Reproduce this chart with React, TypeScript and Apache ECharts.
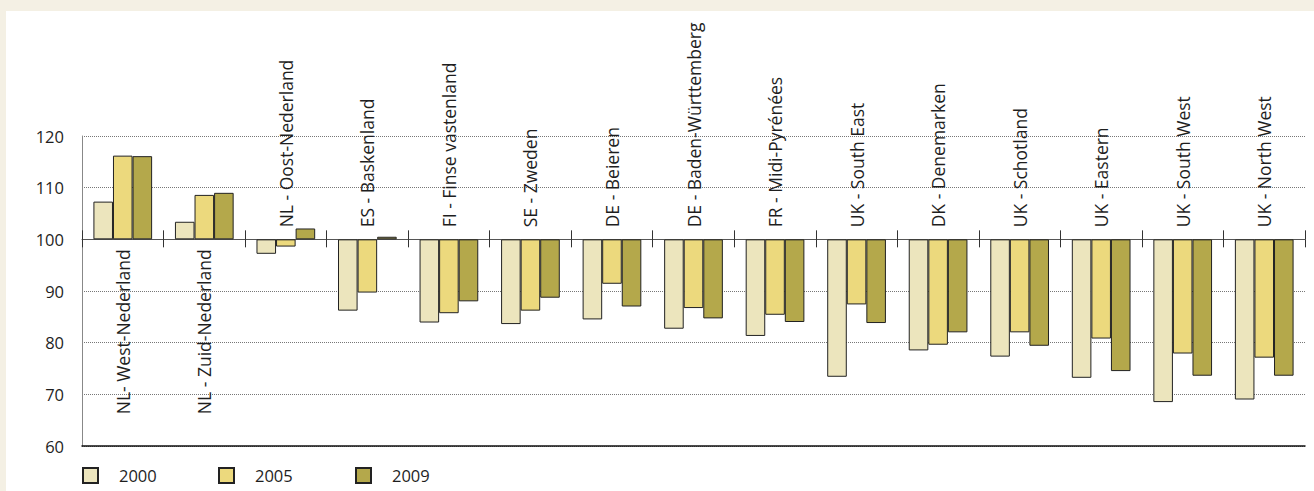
import React, { useEffect, useRef } from "react";
import * as echarts from "echarts";

const categories = [
  "NL- West-Nederland",
  "NL - Zuid-Nederland",
  "NL - Oost-Nederland",
  "ES - Baskenland",
  "FI - Finse vastenland",
  "SE - Zweden",
  "DE - Beieren",
  "DE - Baden-Württemberg",
  "FR - Midi-Pyrénées",
  "UK - South East",
  "DK - Denemarken",
  "UK - Schotland",
  "UK - Eastern",
  "UK - South West",
  "UK - North West",
];

const seriesNames = ["2000", "2005", "2009"];

const values2000 = [107.3, 103.4, 97.2, 86.2, 83.9, 83.6, 84.5, 82.7, 81.3, 73.4, 78.5, 77.3, 73.2, 68.5, 69.0];
const values2005 = [116.2, 108.6, 98.6, 89.7, 85.7, 86.2, 91.4, 86.7, 85.4, 87.4, 79.6, 82.0, 80.8, 77.9, 77.1];
const values2009 = [116.1, 109.0, 102.1, 100.5, 88.0, 88.7, 87.0, 84.7, 84.0, 83.8, 82.0, 79.4, 74.5, 73.6, 73.6];

const baseline = 100;
const yTicks = [60, 70, 80, 90, 100, 110, 120];
const labelsBelowCount = 2;

const colors = ["#ece5bd", "#ecd97d", "#b4a84b"];

export default function App() {
  const ref = useRef<HTMLDivElement>(null);

  useEffect(() => {
    if (!ref.current) return;
    const chart = echarts.init(ref.current, null, { renderer: "svg" });
    const allValues = [values2000, values2005, values2009];
    const font = "'Open Sans', sans-serif";
    const yMin = yTicks[0] - baseline;
    const yMax = yTicks[yTicks.length - 1] - baseline;

    const legendLefts = [71, 207, 344];

    const labelData = categories.map((c, i) => {
      const below = i < labelsBelowCount;
      return {
        value: 0,
        name: c,
        label: {
          show: true,
          position: below ? "bottom" : "top",
          distance: below ? 10 : 12,
          rotate: 90,
          align: below ? "right" : "left",
          verticalAlign: "middle",
          formatter: c,
          fontSize: 17.5,
          color: "#1e1e1e",
          fontFamily: font,
        },
      };
    });

    chart.setOption({
      animation: false,
      backgroundColor: "#ffffff",
      textStyle: { fontFamily: font },
      grid: {
        left: 76,
        right: 9,
        top: 125,
        bottom: 45,
        containLabel: false,
        outerBoundsMode: "none",
      },
      legend: seriesNames.map((n, i) => ({
        data: [n],
        left: legendLefts[i],
        top: 451,
        itemWidth: 15,
        itemHeight: 15,
        icon: "rect",
        selectedMode: false,
        textStyle: { fontSize: 16.5, color: "#1e1e1e", fontFamily: font, padding: [0, 0, 0, 16] },
      })),
      xAxis: [
        {
          type: "category",
          data: categories,
          position: "bottom",
          axisLine: { onZero: true, onZeroAxisIndex: 0, lineStyle: { color: "#555", width: 1 } },
          axisTick: { show: true, interval: 0, length: 8, lineStyle: { color: "#333" } },
          axisLabel: { show: false },
          splitLine: { show: false },
        },
        {
          type: "category",
          data: categories,
          position: "top",
          axisLine: { show: false, onZero: true, onZeroAxisIndex: 0 },
          axisTick: { show: true, interval: 0, length: 9, lineStyle: { color: "#333" } },
          axisLabel: { show: false },
          splitLine: { show: false },
        },
        {
          type: "category",
          data: categories,
          position: "bottom",
          axisLine: { show: true, onZero: false, lineStyle: { color: "#111", width: 1.5 } },
          axisTick: { show: false },
          axisLabel: { show: false },
          splitLine: { show: false },
        },
      ],
      yAxis: {
        type: "value",
        min: yMin,
        max: yMax,
        interval: 10,
        axisLine: { show: true, lineStyle: { color: "#888" } },
        axisTick: { show: false },
        axisLabel: {
          fontSize: 16.5,
          color: "#1e1e1e",
          margin: 18,
          fontFamily: font,
          formatter: (v: number) => String(v + baseline),
        },
        splitLine: { show: true, lineStyle: { type: "dotted", color: "#777", width: 1 } },
      },
      series: [
        ...seriesNames.map((n, i) => ({
          name: n,
          type: "bar",
          xAxisIndex: 0,
          data: allValues[i].map((v) => +(v - baseline).toFixed(2)),
          barGap: "0%",
          barCategoryGap: "28%",
          itemStyle: {
            color: colors[i],
            borderColor: "#222",
            borderWidth: 1,
          },
        })),
        {
          name: "labels",
          type: "bar",
          xAxisIndex: 1,
          data: labelData,
          barWidth: 1,
          silent: true,
          itemStyle: { color: "rgba(0,0,0,0)", borderWidth: 0 },
          z: 5,
        },
      ],
    });
    return () => chart.dispose();
  }, []);

  return (
    <div
      style={{
        position: "fixed",
        left: 0,
        top: 0,
        width: 1314,
        height: 491,
        background: "#f4f0e4",
      }}
    >
      <div
        ref={ref}
        style={{ position: "absolute", left: 6, top: 11, width: 1308, height: 480 }}
      />
    </div>
  );
}
